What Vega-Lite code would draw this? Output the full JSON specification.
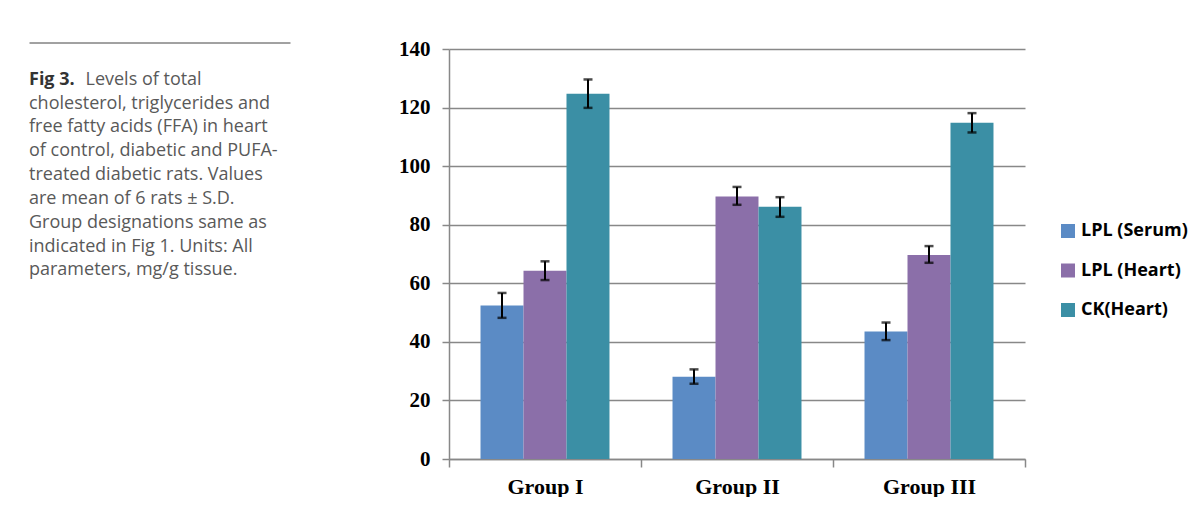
{
  "$schema": "https://vega.github.io/schema/vega-lite/v6.json",
  "background": "white",
  "padding": {"left": 29, "top": 38, "right": 0, "bottom": 0},
  "spacing": 108,
  "config": {"view": {"stroke": null}},
  "hconcat": [
    {
      "width": 261,
      "height": 238.4,
      "data": {"values": [
        {"line": 1, "text": "Levels of total"},
        {"line": 2, "text": "cholesterol, triglycerides and"},
        {"line": 3, "text": "free fatty acids (FFA) in heart"},
        {"line": 4, "text": "of control, diabetic and PUFA-"},
        {"line": 5, "text": "treated diabetic rats. Values"},
        {"line": 6, "text": "are mean of 6 rats ± S.D."},
        {"line": 7, "text": "Group designations same as"},
        {"line": 8, "text": "indicated in Fig 1. Units: All"},
        {"line": 9, "text": "parameters, mg/g tissue."}
      ]},
      "encoding": {
        "x": {"datum": 0, "type": "quantitative", "scale": {"domain": [0, 1]},
              "axis": {"orient": "top", "offset": 6.5, "labels": false, "ticks": false, "grid": false, "title": null, "domainColor": "#444", "domainWidth": 1}},
        "y": {"field": "line", "type": "quantitative", "scale": {"domain": [-0.5, 9.5], "reverse": true, "nice": false, "zero": false}, "axis": null},
        "text": {"field": "text"}
      },
      "layer": [
        {
          "data": {"values": [{"line": 1, "text": "Fig 3."}]},
          "mark": {"type": "text", "align": "left", "baseline": "alphabetic", "font": "Open Sans", "fontSize": 18, "fontWeight": "bold", "color": "#333"}
        },
        {
          "transform": [{"filter": "datum.line == 1"}],
          "mark": {"type": "text", "align": "left", "baseline": "alphabetic", "font": "Open Sans", "fontSize": 18, "color": "#595959", "dx": 56.5}
        },
        {
          "transform": [{"filter": "datum.line > 1"}],
          "mark": {"type": "text", "align": "left", "baseline": "alphabetic", "font": "Open Sans", "fontSize": 18, "color": "#595959"}
        }
      ]
    },
    {
      "width": 576,
      "height": 410,
      "data": {"values": [
        {"group": "Group I", "series": "LPL (Serum)", "value": 52.4, "low": 48.2, "high": 56.7},
        {"group": "Group I", "series": "LPL (Heart)", "value": 64.3, "low": 61.1, "high": 67.5},
        {"group": "Group I", "series": "CK(Heart)", "value": 124.7, "low": 119.9, "high": 129.6},
        {"group": "Group II", "series": "LPL (Serum)", "value": 28.1, "low": 25.7, "high": 30.6},
        {"group": "Group II", "series": "LPL (Heart)", "value": 89.6, "low": 86.8, "high": 92.9},
        {"group": "Group II", "series": "CK(Heart)", "value": 86.1, "low": 82.7, "high": 89.4},
        {"group": "Group III", "series": "LPL (Serum)", "value": 43.5, "low": 40.6, "high": 46.6},
        {"group": "Group III", "series": "LPL (Heart)", "value": 69.7, "low": 67.0, "high": 72.7},
        {"group": "Group III", "series": "CK(Heart)", "value": 114.8, "low": 111.5, "high": 118.1}
      ]},
      "encoding": {
        "x": {"field": "group", "type": "nominal", "sort": null,
              "scale": {"paddingInner": 0, "paddingOuter": 0},
              "axis": {"title": null, "tickBand": "extent", "labelAngle": 0, "labelFont": "Liberation Serif", "labelFontWeight": "bold", "labelFontSize": 22, "labelColor": "#000", "labelPadding": 9, "tickSize": 8, "tickColor": "#888", "domainColor": "#888", "domainWidth": 1.5, "tickWidth": 1.5}},
        "xOffset": {"field": "series", "type": "nominal", "sort": null, "scale": {"paddingInner": 0, "paddingOuter": 0.733}}
      },
      "layer": [
        {
          "mark": {"type": "bar"},
          "encoding": {
            "y": {"field": "value", "type": "quantitative", "title": null,
                  "scale": {"domain": [0, 140], "nice": false},
                  "axis": {"values": [0, 20, 40, 60, 80, 100, 120, 140], "grid": true, "gridColor": "#888", "gridWidth": 1.5, "domainColor": "#888", "domainWidth": 1.5, "tickColor": "#888", "tickWidth": 1.5, "tickSize": 7, "labelPadding": 12, "labelFont": "Liberation Serif", "labelFontWeight": "bold", "labelFontSize": 21, "labelColor": "#000"}},
            "color": {"field": "series", "type": "nominal", "sort": null,
                      "scale": {"domain": ["LPL (Serum)", "LPL (Heart)", "CK(Heart)"], "range": ["#5B8BC5", "#8B6FA9", "#3B8FA5"]},
                      "legend": {"title": null, "orient": "none", "legendX": 1030, "legendY": 173, "padding": 0, "symbolType": "square", "symbolSize": 196, "symbolStrokeWidth": 0, "labelFont": "Open Sans", "labelFontWeight": "bold", "labelFontSize": 18, "labelColor": "#000", "labelOffset": 4, "rowPadding": 21.5}}
          }
        },
        {
          "mark": {"type": "rule", "color": "#000", "strokeWidth": 2},
          "encoding": {
            "y": {"field": "low", "type": "quantitative", "title": null},
            "y2": {"field": "high"}
          }
        },
        {
          "mark": {"type": "tick", "color": "#000", "thickness": 2.5, "size": 9},
          "encoding": {"y": {"field": "low", "type": "quantitative", "title": null}}
        },
        {
          "mark": {"type": "tick", "color": "#000", "thickness": 2.5, "size": 9},
          "encoding": {"y": {"field": "high", "type": "quantitative", "title": null}}
        }
      ]
    }
  ]
}
